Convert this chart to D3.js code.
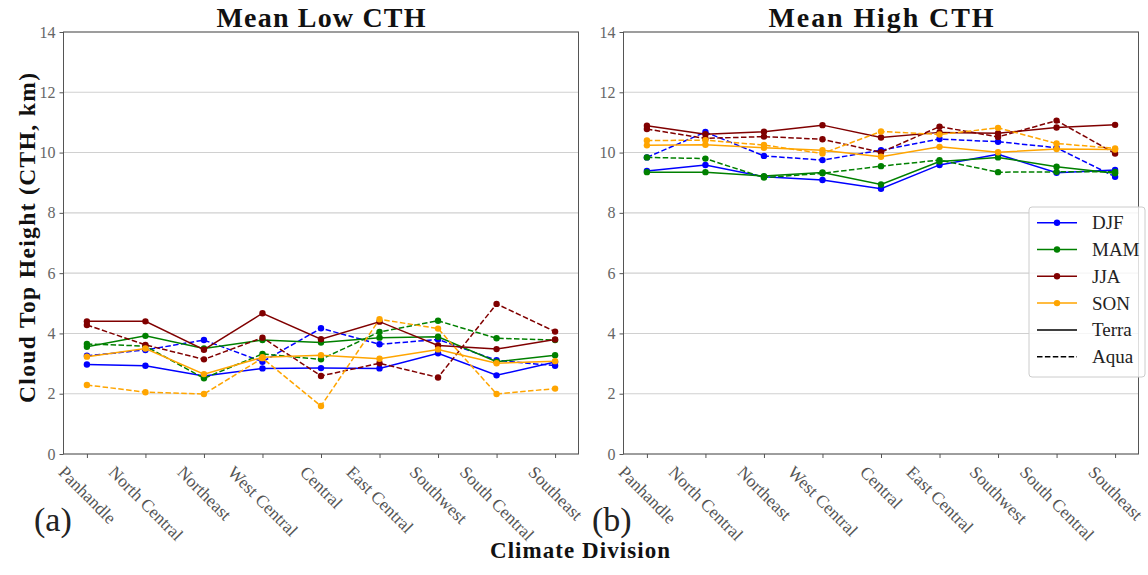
<!DOCTYPE html>
<html>
<head>
<meta charset="utf-8">
<script src="https://cdn.jsdelivr.net/npm/d3@7"></script>
<style>
  body { margin: 0; background: #ffffff; }
  svg text { font-family: "Liberation Serif", "DejaVu Serif", serif; }
</style>
</head>
<body>
<svg id="fig" width="1148" height="575"></svg>
<script>
// Climate divisions along the x axis
const divisions = ["Panhandle", "North Central", "Northeast", "West Central", "Central",
                   "East Central", "Southwest", "South Central", "Southeast"];
const seasons = ["DJF", "MAM", "JJA", "SON"];
const seasonColors = ["#0000ff", "#008000", "#800000", "#ffa500"];
const yTicks = [0, 2, 4, 6, 8, 10, 12, 14];

// Mean low cloud top height (km), Terra and Aqua, per season
const lowTerraDJF = [2.97, 2.93, 2.59, 2.84, 2.85, 2.84, 3.34, 2.61, 3.05];
const lowAquaDJF  = [3.26, 3.45, 3.78, 3.06, 4.17, 3.64, 3.80, 3.11, 2.93];
const lowTerraMAM = [3.56, 3.92, 3.50, 3.78, 3.70, 3.86, 3.89, 3.06, 3.28];
const lowAquaMAM  = [3.65, 3.58, 2.51, 3.32, 3.14, 4.05, 4.42, 3.84, 3.78];
const lowTerraJJA = [4.40, 4.40, 3.46, 4.67, 3.81, 4.39, 3.60, 3.48, 3.80];
const lowAquaJJA  = [4.28, 3.62, 3.14, 3.86, 2.59, 3.01, 2.54, 4.98, 4.06];
const lowTerraSON = [3.23, 3.50, 2.65, 3.21, 3.28, 3.16, 3.47, 3.01, 3.08];
const lowAquaSON  = [2.29, 2.05, 1.99, 3.18, 1.59, 4.47, 4.16, 1.99, 2.17];

// Mean high cloud top height (km), Terra and Aqua, per season
const highTerraDJF = [9.39, 9.59, 9.20, 9.09, 8.80, 9.59, 9.94, 9.33, 9.42];
const highAquaDJF  = [9.84, 10.68, 9.89, 9.75, 10.08, 10.45, 10.36, 10.16, 9.20];
const highTerraMAM = [9.35, 9.35, 9.22, 9.34, 8.94, 9.70, 9.84, 9.53, 9.31];
const highAquaMAM  = [9.84, 9.80, 9.17, 9.31, 9.55, 9.75, 9.35, 9.36, 9.36];
const highTerraJJA = [10.89, 10.61, 10.69, 10.91, 10.50, 10.67, 10.64, 10.83, 10.92];
const highAquaJJA  = [10.78, 10.47, 10.53, 10.44, 10.01, 10.86, 10.52, 11.06, 9.97];
const highTerraSON = [10.24, 10.26, 10.16, 10.08, 9.86, 10.19, 10.01, 10.12, 10.10];
const highAquaSON  = [10.40, 10.41, 10.25, 9.97, 10.70, 10.60, 10.82, 10.30, 10.14];

const panels = [
  { title: "Mean Low CTH", tag: "(a)",
    terra: [lowTerraDJF, lowTerraMAM, lowTerraJJA, lowTerraSON],
    aqua:  [lowAquaDJF, lowAquaMAM, lowAquaJJA, lowAquaSON] },
  { title: "Mean High CTH", tag: "(b)",
    terra: [highTerraDJF, highTerraMAM, highTerraJJA, highTerraSON],
    aqua:  [highAquaDJF, highAquaMAM, highAquaJJA, highAquaSON] }
];

const svg = d3.select("#fig");
const FONT = '"Liberation Serif", "DejaVu Serif", serif';
const plotTop = 32, plotBottom = 454, plotWidth = 515;
const lefts = [63.5, 623.5];
const tagX = [34, 592];
const spineColor = "#555";
const y = d3.scaleLinear().domain([0, 14]).range([plotBottom, plotTop]);

panels.forEach((p, i) => {
  const left = lefts[i], right = left + plotWidth;
  const x = d3.scalePoint().domain(divisions).range([left, right]).padding(0.4);
  const g = svg.append("g");

  // horizontal grid
  g.selectAll("line.grid").data(yTicks).join("line")
    .attr("class", "grid")
    .attr("x1", left).attr("x2", right)
    .attr("y1", d => y(d)).attr("y2", d => y(d))
    .attr("stroke", "#d0d0d0").attr("stroke-width", 1.1);

  // series: solid = Terra, dashed = Aqua
  seasons.forEach((s, k) => {
    [["terra", null], ["aqua", "5.5,2.4"]].forEach(([key, dash]) => {
      const vals = p[key][k];
      const pts = divisions.map((d, j) => [x(d), y(vals[j])]);
      g.append("path")
        .attr("d", d3.line()(pts))
        .attr("fill", "none")
        .attr("stroke", seasonColors[k])
        .attr("stroke-width", 1.5)
        .attr("stroke-dasharray", dash);
      g.append("g").selectAll("circle").data(pts).join("circle")
        .attr("cx", d => d[0]).attr("cy", d => d[1]).attr("r", 3.2)
        .attr("fill", seasonColors[k]);
    });
  });

  // frame
  g.append("rect")
    .attr("x", left).attr("y", plotTop)
    .attr("width", plotWidth).attr("height", plotBottom - plotTop)
    .attr("fill", "none").attr("stroke", spineColor).attr("stroke-width", 1);

  // y axis
  const ya = g.append("g")
    .attr("transform", `translate(${left},0)`)
    .call(d3.axisLeft(y).tickValues(yTicks).tickSize(4).tickPadding(4));
  ya.attr("font-family", FONT).attr("font-size", 16);
  ya.select(".domain").remove();
  ya.selectAll(".tick line").attr("stroke", spineColor);
  ya.selectAll(".tick text").attr("fill", "#666");

  // x axis with rotated labels
  const xa = g.append("g")
    .attr("transform", `translate(0,${plotBottom})`)
    .call(d3.axisBottom(x).tickSize(4));
  xa.attr("font-family", FONT).attr("font-size", 17.5);
  xa.select(".domain").remove();
  xa.selectAll(".tick line").attr("stroke", spineColor);
  xa.selectAll(".tick text").each(function () {
    const t = d3.select(this);
    t.attr("y", 0).attr("dy", null)
      .attr("fill", "#555")
      .attr("text-anchor", "middle")
      .attr("dominant-baseline", "central");
    const w = this.getComputedTextLength();
    const h = 17.5 * 1.15;
    const cy = 8 + (w + h) * 0.3536;
    t.attr("transform", `translate(0,${cy}) rotate(45)`);
  });

  // panel title
  svg.append("text")
    .attr("x", (left + right) / 2).attr("y", 27)
    .attr("text-anchor", "middle")
    .attr("font-size", 28).attr("font-weight", "bold")
    .attr("textLength", i === 0 ? 209 : 225)
    .attr("lengthAdjust", "spacing")
    .attr("fill", "#111")
    .text(p.title);

  // panel tag
  svg.append("text")
    .attr("x", tagX[i]).attr("y", 531)
    .attr("font-size", 34)
    .attr("fill", "#222")
    .text(p.tag);
});

// shared axis titles
svg.append("text")
  .attr("transform", "translate(35,238) rotate(-90)")
  .attr("text-anchor", "middle")
  .attr("font-size", 23.5).attr("font-weight", "bold")
  .attr("textLength", 330).attr("lengthAdjust", "spacing")
  .attr("fill", "#111")
  .text("Cloud Top Height (CTH, km)");

svg.append("text")
  .attr("x", 580).attr("y", 558)
  .attr("text-anchor", "middle")
  .attr("font-size", 23).attr("font-weight", "bold")
  .attr("textLength", 180).attr("lengthAdjust", "spacing")
  .attr("fill", "#111")
  .text("Climate Division");

// legend
const legendItems = [
  ...seasons.map((s, k) => ({ label: s, color: seasonColors[k], dash: null, marker: true })),
  { label: "Terra", color: "#000", dash: null, marker: false },
  { label: "Aqua", color: "#000", dash: "5.5,2.4", marker: false }
];
const lg = svg.append("g").attr("transform", "translate(1029,207)");
lg.append("rect")
  .attr("width", 116).attr("height", 170).attr("rx", 3)
  .attr("fill", "#fff").attr("fill-opacity", 0.8)
  .attr("stroke", "#cccccc").attr("stroke-width", 1);
const rows = lg.selectAll("g.item").data(legendItems).join("g")
  .attr("class", "item")
  .attr("transform", (d, k) => `translate(0,${15.7 + k * 26.8})`);
rows.append("line")
  .attr("x1", 8).attr("x2", 48)
  .attr("stroke", d => d.color).attr("stroke-width", 1.5)
  .attr("stroke-dasharray", d => d.dash);
rows.filter(d => d.marker).append("circle")
  .attr("cx", 28).attr("r", 3.2).attr("fill", d => d.color);
rows.append("text")
  .attr("x", 63).attr("dominant-baseline", "central")
  .attr("font-size", 19).attr("fill", "#222")
  .text(d => d.label);
</script>
</body>
</html>
